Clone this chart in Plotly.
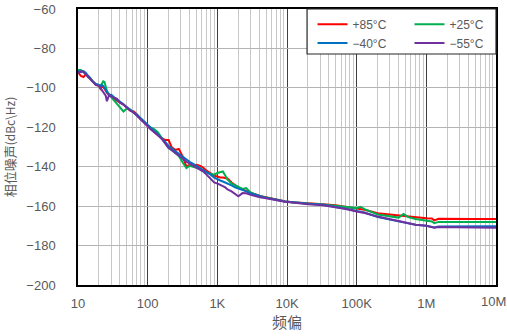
import plotly.graph_objects as go

freq = [10, 11, 12, 13, 14, 15, 16, 17, 18, 20,
        21, 22, 23, 24, 25, 26, 28, 30, 33, 36,
        40, 45, 50, 56, 63, 70, 80, 90, 100, 110,
        125, 140, 160, 180, 200, 220, 250, 280, 320, 360,
        400, 450, 500, 560, 630, 700, 800, 900, 1000, 1100,
        1200, 1300, 1400, 1600, 1800, 2000, 2300, 2600, 3000, 3500,
        4100, 5000, 6000, 7500, 9300, 12000, 15000, 20000, 33000, 50000,
        70000, 100000, 113000, 130000, 200000, 300000, 400000, 470000, 550000, 700000,
        1000000, 1200000, 1300000, 1500000, 2000000, 3000000, 5000000, 10000000]

pn_p85 = [-92, -94, -94.5, -93, -94, -95.5, -96.5, -97.5, -98.5, -99,
          -100.5, -99.5, -99.5, -100.5, -101.5, -102.5, -103.5, -104.5, -105.5, -106.5,
          -107.5, -108.5, -110, -111.5, -112, -113.5, -116, -117.5, -119.5, -120.5,
          -122.5, -124, -125.5, -126.5, -126.5, -130, -131.5, -131, -135, -140,
          -139, -139.5, -139, -139.5, -140.5, -142, -143.5, -144.5, -145, -145.5,
          -145.5, -145.8, -146, -148, -149.5, -150.5, -151.5, -152.3, -153.2, -154,
          -154.8, -155.5, -156, -156.8, -157.5, -158, -158.3, -158.6, -159, -159.5,
          -160.3, -161, -161.3, -161.8, -163.6, -164.3, -164.8, -165, -165.4, -165.8,
          -166.1, -166.3, -167.2, -166.4, -166.5, -166.5, -166.5, -166.5]

pn_p25 = [-91, -91, -92, -93.5, -94.5, -95.5, -96.5, -97.5, -98, -99,
          -99, -98, -96.7, -97, -100, -101.5, -103.5, -105, -106.5, -108,
          -110, -112, -110.5, -111, -112.5, -114, -116, -117.5, -119, -120,
          -121, -122.5, -125.5, -128, -130.5, -131.5, -133, -134.5, -138, -140.7,
          -139.5, -140, -140.5, -141, -142, -143, -143.5, -144, -143.2, -142.8,
          -142.4, -144.5, -146.6, -148.5, -149.5, -150.5, -151.3, -150.8, -153, -154,
          -155, -155.6, -156.2, -157, -157.6, -158, -158.4, -158.7, -159.2, -159.8,
          -160.6, -161, -160.3, -161.5, -164.2, -165.2, -165.8, -164, -165.6, -166.5,
          -167.5, -167.8, -168.6, -168, -168.1, -168.1, -168.1, -168.1]

pn_m40 = [-91.5, -92, -91.5, -92.5, -94, -95, -96.5, -97.5, -98, -98.5,
          -99, -98.5, -99, -100, -101, -102, -104, -103.5, -105, -106,
          -107, -108.5, -109.5, -111, -112.5, -113.5, -115.5, -117.5, -119, -120.5,
          -122, -123.5, -125.5, -127.5, -129.5, -130.5, -132, -133.5, -135, -136.5,
          -137.5, -138.5, -139.5, -140.5, -141.5, -142.5, -144, -145.5, -146.5, -147,
          -147.5, -148, -148.5, -149.5, -150.5, -151, -151.8, -152.5, -153.5, -154.3,
          -155, -155.8, -156.3, -157, -157.6, -158, -158.5, -158.8, -159.3, -160.2,
          -161.3, -162.5, -162.8, -163.2, -165.5, -166.8, -167.5, -168, -168.6, -169.4,
          -170, -170.3, -170.8, -170.3, -170.3, -170.3, -170.2, -170.2]

pn_m55 = [-92.5, -91.5, -92, -93.5, -94.5, -95.5, -96.5, -97.5, -98.5, -99,
          -100, -101, -102, -103, -104, -106.8, -103.4, -104.5, -105, -105.5,
          -107.5, -108.5, -110, -111.5, -112.5, -114, -116, -118, -119.5, -121,
          -122.5, -124, -126, -128.5, -130.5, -131.5, -133, -134, -136, -137.5,
          -138.5, -139.5, -140.5, -141.5, -142.5, -144, -146, -148, -148.5, -149,
          -149.8, -150.5, -151.5, -152.5, -154, -155, -153.4, -153.5, -154.2, -155,
          -155.5, -156, -156.6, -157.2, -157.8, -158.2, -158.6, -159, -159.5, -160.4,
          -161.5, -162.7, -163, -163.5, -165.3, -166.6, -167.4, -167.8, -168.5, -169.4,
          -170, -170.5, -171, -170.6, -170.6, -170.7, -170.8, -171]

series_names = ["+85°C", "+25°C", "\u221240°C", "\u221255°C"]
series_colors = ["#FF0000", "#00B050", "#0070C0", "#7030A0"]
series_values = [pn_p85, pn_p25, pn_m40, pn_m55]
series_legend = ["legend", "legend", "legend2", "legend2"]

x_tickvals = [10, 100, 1000, 10000, 100000, 1000000, 10000000]
x_ticktext = ["10", "100", "1K", "10K", "100K", "1M", "10M"]
y_tickvals = [-200, -180, -160, -140, -120, -100, -80, -60]

fig = go.Figure()
for name, color, vals, lg in zip(series_names, series_colors, series_values, series_legend):
    fig.add_trace(go.Scatter(x=freq, y=vals, mode="lines", name=name,
                             line=dict(color=color, width=2), legend=lg))

minor_vals = [m * 10 ** e for e in range(1, 7) for m in range(2, 10)]

cjk_font = "Noto Sans CJK SC"
num_font = "Liberation Sans"
legend_common = dict(orientation="h", xanchor="left", yanchor="top",
                     entrywidth=52, bgcolor="rgba(0,0,0,0)",
                     font=dict(size=12, color="#595959", family=num_font))

# the last x tick label sits at the right edge of the page; draw it as an
# annotation nudged slightly left so it is not clipped
x_ticktext_axis = x_ticktext[:-1] + [""]

fig.update_layout(
    width=507, height=336,
    margin=dict(l=78, r=11, t=9, b=51, autoexpand=False),
    plot_bgcolor="white", paper_bgcolor="white",
    font=dict(family=cjk_font, color="#595959", size=13),
    showlegend=True,
    legend=dict(x=0.561, y=0.997, **legend_common),
    legend2=dict(x=0.561, y=0.929, **legend_common),
    shapes=[dict(type="rect", xref="paper", yref="paper", x0=0.548, x1=1.0, y0=0.837, y1=1.0,
                 line=dict(color="#262626", width=1.2), fillcolor="white", layer="above")],
    annotations=[dict(x=7, xref="x", y=0, yref="paper", text=x_ticktext[-1],
                      showarrow=False, xanchor="center", yanchor="top",
                      xshift=-3, yshift=-7,
                      font=dict(family=num_font, size=13, color="#595959"))],
)

fig.update_xaxes(
    type="log", range=[1, 7], automargin=False, ticklabeloverflow="allow",
    tickmode="array", tickvals=x_tickvals, ticktext=x_ticktext_axis,
    showgrid=True, gridcolor="#404040", gridwidth=1,
    minor=dict(tickmode="array", tickvals=minor_vals, showgrid=True, gridcolor="#C8C8C8", gridwidth=1),
    showline=True, linecolor="black", linewidth=1.5, mirror=True,
    ticks="", ticklabelstandoff=6,
    tickfont=dict(size=13, color="#595959", family=num_font),
    title=dict(text="频偏", font=dict(size=15, color="#595959", family=cjk_font), standoff=6),
    zeroline=False,
)
fig.update_yaxes(
    range=[-200, -60], automargin=False, ticklabeloverflow="allow",
    tickmode="array", tickvals=y_tickvals,
    showgrid=True, gridcolor="#B4B4B4", gridwidth=1,
    showline=True, linecolor="black", linewidth=1.5, mirror=True,
    ticks="", ticklabelstandoff=18,
    tickfont=dict(size=13, color="#595959", family=num_font),
    title=dict(text="相位噪声<span style='font-size:12px'>(dBc\\Hz)</span>",
               font=dict(size=13, color="#595959", family=cjk_font), standoff=9),
    zeroline=False,
)

fig.write_html("out.html")
